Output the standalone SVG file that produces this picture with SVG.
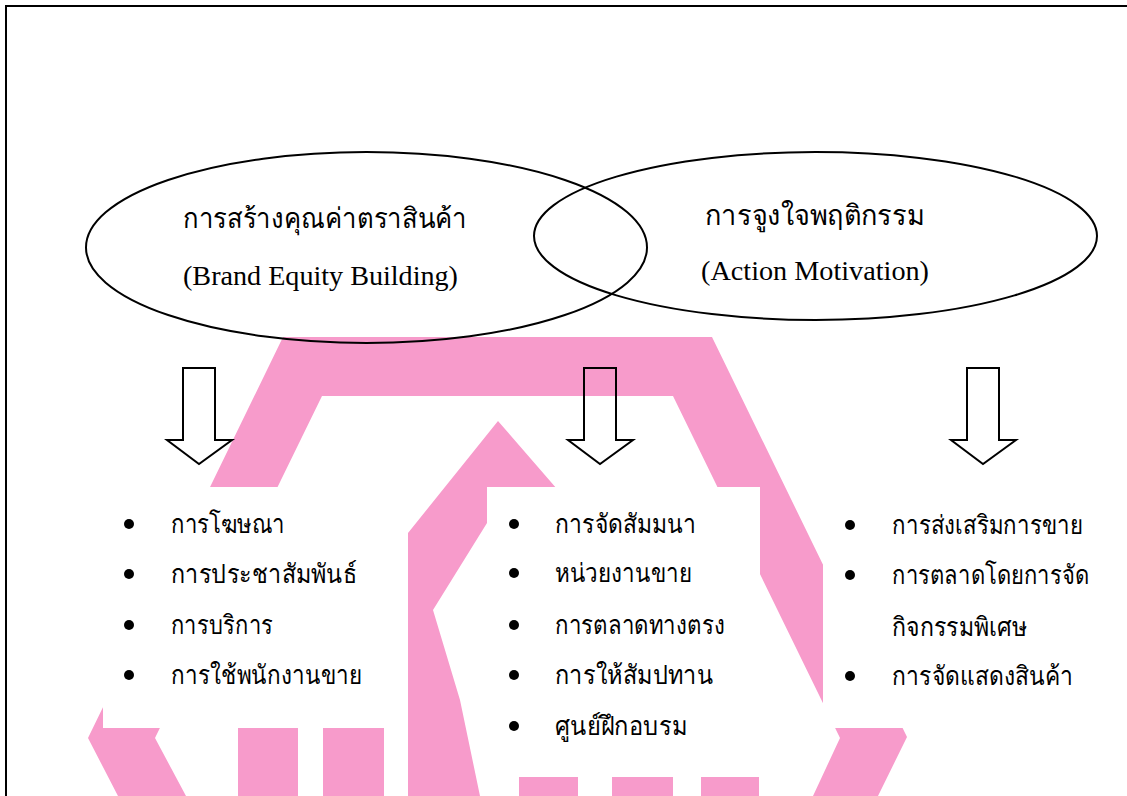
<svg xmlns="http://www.w3.org/2000/svg" width="1127" height="796" viewBox="0 0 1127 796">
<style>
.pink{fill:#F79BCB}
.box{fill:#FFFFFF}
.ell{fill:none;stroke:#000;stroke-width:2}
.arr{fill:none;stroke:#000;stroke-width:2;stroke-linejoin:miter}
.th{font-family:"Liberation Serif",serif;font-size:26px;fill:#000}
.hd{font-family:"Liberation Serif",serif;font-size:28px;fill:#000}
.en{font-family:"Liberation Serif",serif;font-size:28px;fill:#000}
.dot{fill:#000}
</style>
<rect width="1127" height="796" fill="#FFFFFF"/>
<g id="watermark">
<polygon class="pink" points="283,337 712,337 907,737 878,796 813,796 840,738 673,396 322,396 155,738 186,796 118,796 88,738"/>
<polygon class="pink" points="408,796 408,533 498,421 570,504 510,504 487,523 433,610 460,700 480,796"/>
<rect class="pink" x="238" y="728" width="60" height="68"/>
<rect class="pink" x="323" y="728" width="61" height="68"/>
<rect class="pink" x="519" y="760" width="59" height="36"/>
<rect class="pink" x="612" y="760" width="61" height="36"/>
<rect class="pink" x="701" y="760" width="58" height="36"/>
</g>
<g id="boxes">
<rect class="box" x="103" y="487" width="305" height="241"/>
<rect class="box" x="487" y="487" width="273" height="290"/>
<rect class="box" x="823" y="487" width="304" height="241"/>
</g>
<rect x="6" y="6" width="1130" height="800" fill="none" stroke="#000" stroke-width="2"/>
<g id="node-brand">
<ellipse class="ell" cx="366.5" cy="247.5" rx="280.5" ry="95.5"/>
<text class="hd" x="183" y="228" textLength="284" lengthAdjust="spacingAndGlyphs">การสร้างคุณค่าตราสินค้า</text>
<text class="en" x="183" y="285" textLength="275" lengthAdjust="spacingAndGlyphs">(Brand Equity Building)</text>
</g>
<g id="node-action">
<ellipse class="ell" cx="815.5" cy="236" rx="281.5" ry="84"/>
<text class="hd" x="705" y="225" textLength="219" lengthAdjust="spacingAndGlyphs">การจูงใจพฤติกรรม</text>
<text class="en" x="701" y="280" textLength="228" lengthAdjust="spacingAndGlyphs">(Action Motivation)</text>
</g>
<g id="connectors">
<path class="arr" d="M183,368 H215 V440 H232 L199,464 L167,440 H183 Z"/>
<path class="arr" d="M584,368 H616 V440 H633 L600,464 L568,440 H584 Z"/>
<path class="arr" d="M967,368 H999 V440 H1016 L983,464 L951,440 H967 Z"/>
</g>
<g id="list-left">
<circle class="dot" cx="129" cy="524" r="5"/>
<circle class="dot" cx="129" cy="574" r="5"/>
<circle class="dot" cx="129" cy="625" r="5"/>
<circle class="dot" cx="129" cy="675" r="5"/>
<text class="th" x="171" y="533" textLength="114" lengthAdjust="spacingAndGlyphs">การโฆษณา</text>
<text class="th" x="171" y="583" textLength="186" lengthAdjust="spacingAndGlyphs">การประชาสัมพันธ์</text>
<text class="th" x="171" y="634" textLength="102" lengthAdjust="spacingAndGlyphs">การบริการ</text>
<text class="th" x="171" y="684" textLength="191" lengthAdjust="spacingAndGlyphs">การใช้พนักงานขาย</text>
</g>
<g id="list-middle">
<circle class="dot" cx="514" cy="524" r="5"/>
<circle class="dot" cx="514" cy="573" r="5"/>
<circle class="dot" cx="514" cy="625" r="5"/>
<circle class="dot" cx="514" cy="675" r="5"/>
<circle class="dot" cx="514" cy="726" r="5"/>
<text class="th" x="555" y="533" textLength="141" lengthAdjust="spacingAndGlyphs">การจัดสัมมนา</text>
<text class="th" x="555" y="582" textLength="137" lengthAdjust="spacingAndGlyphs">หน่วยงานขาย</text>
<text class="th" x="555" y="634" textLength="170" lengthAdjust="spacingAndGlyphs">การตลาดทางตรง</text>
<text class="th" x="555" y="684" textLength="158" lengthAdjust="spacingAndGlyphs">การให้สัมปทาน</text>
<text class="th" x="555" y="735" textLength="132" lengthAdjust="spacingAndGlyphs">ศูนย์ฝึกอบรม</text>
</g>
<g id="list-right">
<circle class="dot" cx="850" cy="525" r="5"/>
<circle class="dot" cx="850" cy="575" r="5"/>
<circle class="dot" cx="850" cy="676" r="5"/>
<text class="th" x="892" y="534" textLength="191" lengthAdjust="spacingAndGlyphs">การส่งเสริมการขาย</text>
<text class="th" x="892" y="584" textLength="197" lengthAdjust="spacingAndGlyphs">การตลาดโดยการจัด</text>
<text class="th" x="892" y="636" textLength="135" lengthAdjust="spacingAndGlyphs">กิจกรรมพิเศษ</text>
<text class="th" x="892" y="685" textLength="181" lengthAdjust="spacingAndGlyphs">การจัดแสดงสินค้า</text>
</g>
</svg>
